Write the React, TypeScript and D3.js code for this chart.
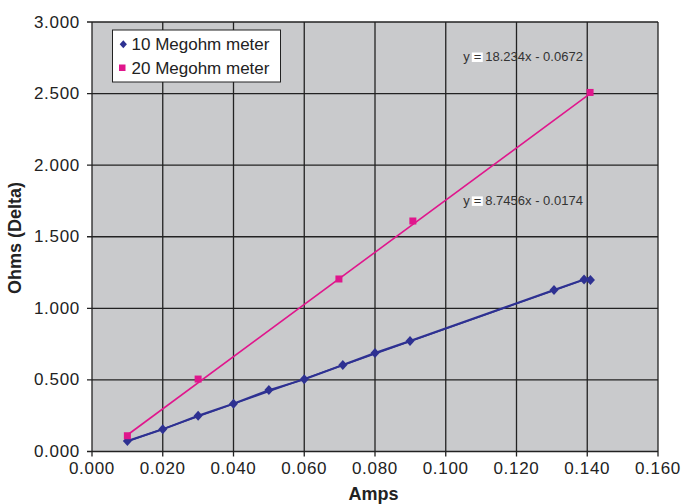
import React from "react";
import * as d3 from "d3";

const xTicks = [0, 0.02, 0.04, 0.06, 0.08, 0.1, 0.12, 0.14, 0.16];
const yTicks = [0, 0.5, 1.0, 1.5, 2.0, 2.5, 3.0];

const s10x = [0.010, 0.020, 0.030, 0.040, 0.050, 0.060, 0.0709, 0.080, 0.0899, 0.1306, 0.1391, 0.1409];
const s10y = [0.073, 0.155, 0.250, 0.334, 0.429, 0.504, 0.604, 0.688, 0.772, 1.128, 1.202, 1.198];
const s20x = [0.010, 0.030, 0.0698, 0.0907, 0.1408];
const s20y = [0.110, 0.506, 1.205, 1.610, 2.508];

const seriesNames = ["10 Megohm meter", "20 Megohm meter"];
const fitSlopes = [8.7456, 18.234];
const fitIntercepts = [-0.0174, -0.0672];
const fitLabels = ["8.7456x - 0.0174", "18.234x - 0.0672"];

const BLUE = "#2e3192";
const PINK = "#e0168c";
const DIAMOND = "M0,-5L4.5,0L0,5L-4.5,0Z";

export default function App() {
  const W = 685, H = 504;
  const left = 92, right = 658, top = 22, bottom = 451.5;
  const x = d3.scaleLinear().domain([0, 0.16]).range([left, right]);
  const y = d3.scaleLinear().domain([0, 3]).range([bottom, top]);
  const line = d3.line<[number, number]>().x(d => x(d[0])).y(d => y(d[1]));
  const d10 = s10x.map((v, i) => [v, s10y[i]] as [number, number]);
  const d20 = s20x.map((v, i) => [v, s20y[i]] as [number, number]);
  const font = "Liberation Sans, Arial, sans-serif";
  const fit = (k: number, xs: number[]) => {
    const a = d3.min(xs)!, b = d3.max(xs)!;
    return line([[a, fitSlopes[k] * a + fitIntercepts[k]], [b, fitSlopes[k] * b + fitIntercepts[k]]]) || "";
  };
  const eqPos = [[0.10496, 1.7225], [0.10496, 2.7275]];
  return (
    <svg width={W} height={H} style={{ position: "absolute", left: 0, top: 0 }} fontFamily={font}>
      <rect x={left} y={top} width={right - left} height={bottom - top} fill="#c9cacc" />
      {xTicks.map((t, i) => (
        <line key={"gx" + i} x1={x(t)} x2={x(t)} y1={top} y2={bottom + 5} stroke="#222" strokeWidth={1.3} />
      ))}
      {yTicks.map((t, i) => (
        <line key={"gy" + i} x1={left - 5} x2={right} y1={y(t)} y2={y(t)} stroke="#222" strokeWidth={1.3} />
      ))}
      {xTicks.map((t, i) => (
        <text key={"tx" + i} x={x(t)} y={bottom + 22.5} fontSize={17} letterSpacing={0.7} textAnchor="middle" fill="#222">{d3.format(".3f")(t)}</text>
      ))}
      {yTicks.map((t, i) => (
        <text key={"ty" + i} x={80} y={y(t) + 5.5} fontSize={17} letterSpacing={0.7} textAnchor="end" fill="#222">{d3.format(".3f")(t)}</text>
      ))}
      <path d={fit(0, s10x)} stroke={BLUE} strokeWidth={1.5} fill="none" />
      <path d={line(d10) || ""} stroke={BLUE} strokeWidth={2} fill="none" />
      <path d={fit(1, s20x)} stroke={PINK} strokeWidth={1.6} fill="none" />
      {d10.map((d, i) => (
        <path key={"m10" + i} d={DIAMOND} transform={`translate(${x(d[0])},${y(d[1])})`} fill={BLUE} />
      ))}
      {d20.map((d, i) => (
        <rect key={"m20" + i} x={x(d[0]) - 3.5} y={y(d[1]) - 3.5} width={7} height={7} fill={PINK} />
      ))}
      {[0, 1].map(k => {
        const px = x(eqPos[k][0]), py = y(eqPos[k][1]);
        return (
          <g key={"eq" + k} fontSize={13} fill="#333">
            <text x={px} y={py}>y</text>
            <rect x={px + 8.5} y={py - 8.5} width={11} height={9.5} fill="#fff" />
            <text x={px + 10.5} y={py}>=</text>
            <text x={px + 22} y={py}>{fitLabels[k]}</text>
          </g>
        );
      })}
      <rect x={112.5} y={30} width={168} height={52} fill="#fff" stroke="#222" strokeWidth={1} />
      <path d={DIAMOND} transform="translate(123.3,44.3) scale(0.8)" fill={BLUE} />
      <text x={131.5} y={49.5} fontSize={17} fill="#222">{seriesNames[0]}</text>
      <rect x={119} y={64.5} width={6.5} height={6.5} fill={PINK} />
      <text x={131.5} y={73.5} fontSize={17} fill="#222">{seriesNames[1]}</text>
      <text x={373.5} y={500} fontSize={18} fontWeight="bold" textAnchor="middle" fill="#222">Amps</text>
      <text transform={`translate(21,238) rotate(-90)`} fontSize={18} fontWeight="bold" textAnchor="middle" fill="#222">Ohms (Delta)</text>
    </svg>
  );
}
